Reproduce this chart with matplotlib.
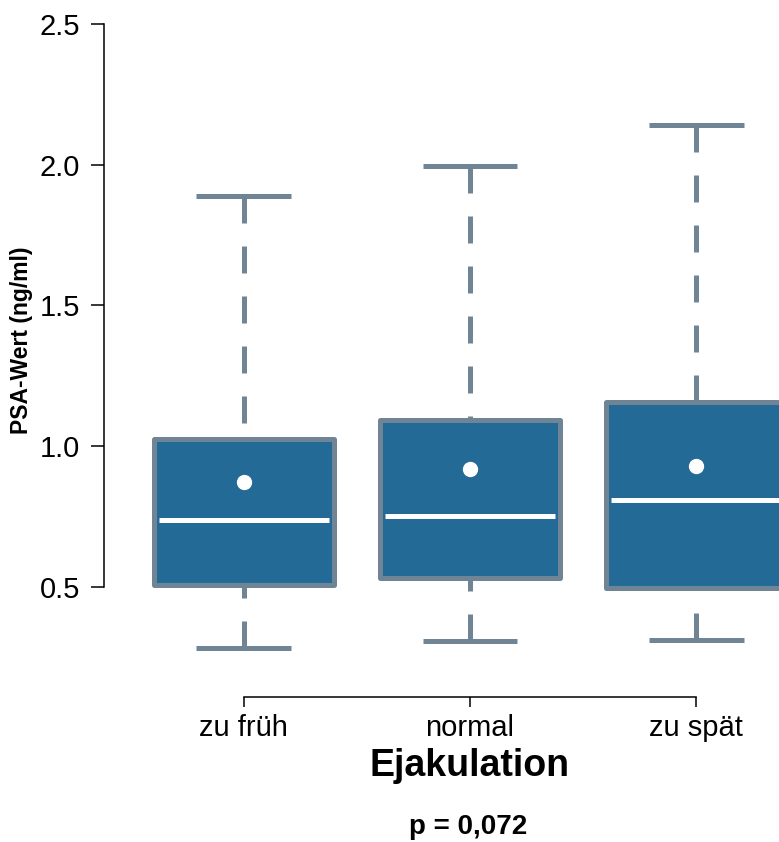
import matplotlib
matplotlib.use("Agg")
import matplotlib.pyplot as plt

# PSA values per ejaculation group (ng/ml)
groups = ["zu früh", "normal", "zu spät"]
q1 = [0.507, 0.532, 0.497]
median = [0.738, 0.752, 0.809]
q3 = [1.025, 1.092, 1.156]
whisker_low = [0.284, 0.309, 0.312]
whisker_high = [1.887, 1.996, 2.142]
mean = [0.872, 0.918, 0.929]
y_ticks = [0.5, 1.0, 1.5, 2.0, 2.5]

FILL = "#246a97"
EDGE = "#6f8595"

plt.rcParams["font.family"] = ["Liberation Sans", "DejaVu Sans"]

fig = plt.figure(figsize=(7.79, 8.42), dpi=100)
ax = fig.add_axes([104 / 779, 1 - 697 / 842, 1 - 104 / 779, 697 / 842])

stats = []
for i, name in enumerate(groups):
    stats.append(dict(label=name, q1=q1[i], med=median[i], q3=q3[i],
                      whislo=whisker_low[i], whishi=whisker_high[i],
                      mean=mean[i], fliers=[]))

positions = list(range(1, len(groups) + 1))
bp = ax.bxp(stats, positions=positions, widths=0.80, patch_artist=True,
            showmeans=True, capwidths=0.42,
            boxprops=dict(facecolor=FILL, edgecolor=EDGE, linewidth=3.6,
                          joinstyle="round"),
            whiskerprops=dict(color=EDGE, linewidth=3.6, linestyle=(0, (5.4, 4.6))),
            capprops=dict(color=EDGE, linewidth=3.6, solid_capstyle="butt"),
            medianprops=dict(color="white", linewidth=3.6, solid_capstyle="butt"),
            meanprops=dict(marker="o", markerfacecolor="white", markeredgecolor="white",
                           markersize=10))

# start the dashes at the caps, not at the box
for w in bp["whiskers"]:
    xd, yd = w.get_data()
    w.set_data(xd[::-1], yd[::-1])
    w.set_zorder(1)
for m in bp["medians"]:
    xd, yd = m.get_data()
    m.set_xdata([xd[0] + 0.025, xd[1] - 0.025])

ax.set_xlim(0.381, 3.367)
ax.set_ylim(0.109, 2.585)
ax.set_yticks(y_ticks)
ax.set_yticklabels([f"{v:.1f}" for v in y_ticks])
ax.set_xticks(positions)
ax.set_xticklabels(groups)

for side in ["top", "right"]:
    ax.spines[side].set_visible(False)
ax.spines["left"].set_bounds(0.5, 2.5)
ax.spines["bottom"].set_bounds(1, 3)
for side in ["left", "bottom"]:
    ax.spines[side].set_linewidth(1.1)

ax.tick_params(axis="y", length=9.4, width=1.1, pad=8, labelsize=21)
ax.tick_params(axis="x", length=7, width=1.1, pad=5, labelsize=21)

fig.text(22 / 779, 1 - 340 / 842, "PSA-Wert (ng/ml)", rotation=90,
         ha="center", va="center", fontsize=16.5, fontweight="bold")
fig.text(470 / 779, 1 - 766 / 842, "Ejakulation", ha="center", va="center",
         fontsize=27, fontweight="bold")
fig.text(468 / 779, 1 - 827 / 842, "p = 0,072", ha="center", va="center",
         fontsize=20, fontweight="bold")

fig.savefig("out.png", dpi=100)
